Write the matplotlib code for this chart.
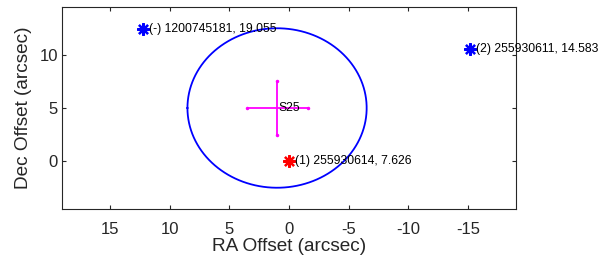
import numpy as np
import matplotlib
matplotlib.use('Agg')
import matplotlib.pyplot as plt

plt.rcParams['font.family'] = ['Liberation Sans', 'DejaVu Sans']
plt.rcParams['axes.unicode_minus'] = False

# ---- Data ----
src_name = 'S25'
src_ra, src_dec = 1.0, 5.0
src_err_ra, src_err_dec = 2.55, 2.55
circle_radius = 7.5

match_ra = [0.0, 12.18, -15.13]
match_dec = [0.0, 12.39, 10.57]
match_labels = ['(1) 255930614, 7.626', '(-) 1200745181, 19.055', '(2) 255930611, 14.583']
match_colors = ['red', 'blue', 'blue']

xticks = [15, 10, 5, 0, -5, -10, -15]
yticks = [0, 5, 10]

fig = plt.figure(figsize=(5.99, 2.62), dpi=100)
ax = fig.add_axes([62 / 599, 1 - 209 / 262, 454 / 599, 202 / 262])

# search circle
t = np.linspace(0, 2 * np.pi, 400)
ax.plot(src_ra + circle_radius * np.cos(t), src_dec + circle_radius * np.sin(t),
        color='blue', linewidth=1.3)

# source position with error bars
ax.errorbar(src_ra, src_dec, xerr=src_err_ra, yerr=src_err_dec, fmt='none',
            ecolor='magenta', elinewidth=1.3, capsize=0)
ax.plot([src_ra - src_err_ra, src_ra + src_err_ra, src_ra, src_ra],
        [src_dec, src_dec, src_dec - src_err_dec, src_dec + src_err_dec],
        ls='none', marker='.', ms=3, color='magenta')
ax.text(src_ra - 0.15, src_dec, src_name, fontsize=8.7, ha='left', va='center')

# candidate matches
for ra, dec, lab, col in zip(match_ra, match_dec, match_labels, match_colors):
    ax.plot(ra, dec, marker=(8, 2, 0), ms=9, mew=1.6, color=col, ls='none')
    ax.text(ra - 0.5, dec, lab, fontsize=8.7, ha='left', va='center', clip_on=False)

ax.set_xlim(19, -19)
ax.set_ylim(-4.5, 14.5)
ax.set_xticks(xticks)
ax.set_yticks(yticks)
ax.tick_params(direction='in', length=3, labelsize=12, colors='#262626',
               top=True, right=True, labeltop=False, labelright=False)
ax.tick_params(axis='x', pad=9)
ax.tick_params(axis='y', pad=3)
for s in ax.spines.values():
    s.set_color('#262626')
    s.set_linewidth(0.8)
ax.set_xlabel('RA Offset (arcsec)', fontsize=13.7, color='#262626', labelpad=1)
ax.set_ylabel('Dec Offset (arcsec)', fontsize=13.7, color='#262626', labelpad=5)

plt.savefig('out.png', dpi=100)
plt.close()
